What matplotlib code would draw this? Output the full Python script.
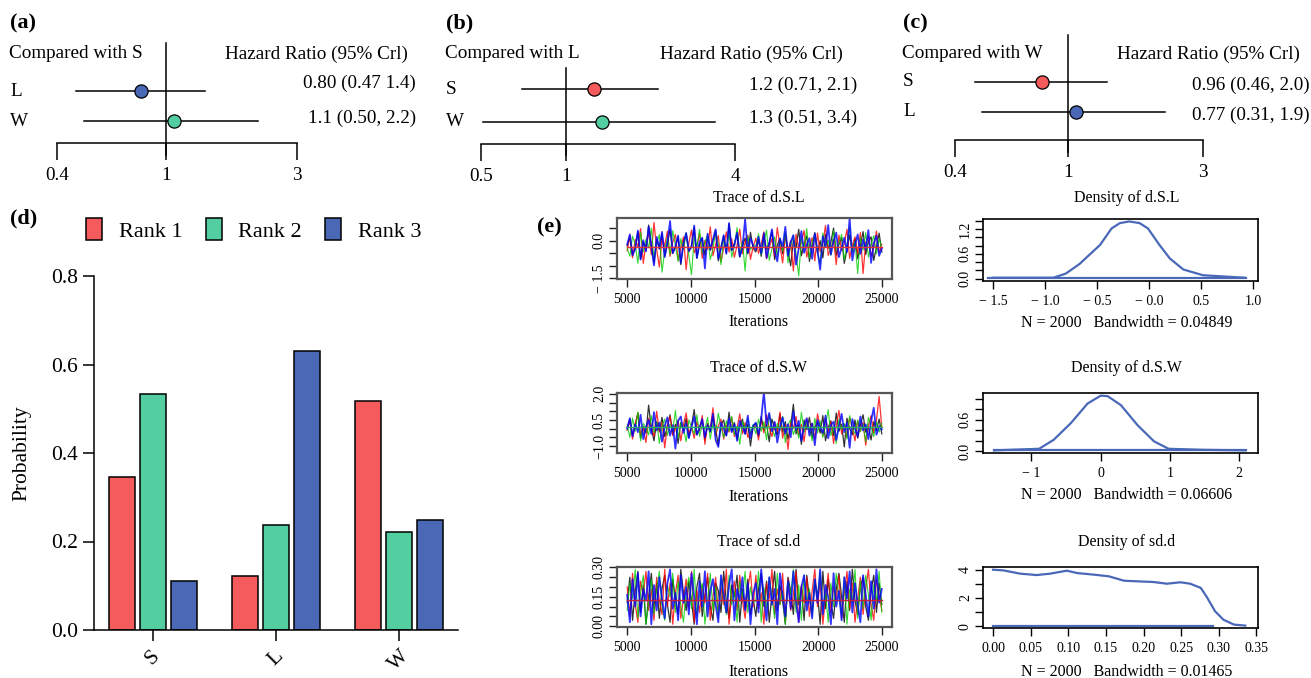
import numpy as np
import matplotlib.pyplot as plt
from matplotlib.ticker import NullLocator

plt.rcParams['font.family'] = ['Liberation Serif', 'DejaVu Serif']

RED = '#F55B5C'
GREEN = '#52CEA0'
BLUE = '#4A68B5'
DENS = '#4A68B8'

# ---- forest plots (a) (b) (c) ----
fa_rows = ['L', 'W']
fa_est = [0.81, 1.07]
fa_lo = [0.47, 0.50]
fa_hi = [1.38, 2.17]
fa_text = ['0.80 (0.47 1.4)', '1.1 (0.50, 2.2)']
fa_cols = [BLUE, GREEN]

fb_rows = ['S', 'W']
fb_est = [1.26, 1.35]
fb_lo = [0.70, 0.51]
fb_hi = [2.13, 3.39]
fb_text = ['1.2 (0.71, 2.1)', '1.3 (0.51, 3.4)']
fb_cols = [RED, GREEN]

fc_rows = ['S', 'L']
fc_est = [0.81, 1.07]
fc_lo = [0.47, 0.50]
fc_hi = [1.37, 2.20]
fc_text = ['0.96 (0.46, 2.0)', '0.77 (0.31, 1.9)']
fc_cols = [RED, BLUE]

# ---- rank probabilities (d) ----
treatments = ['S', 'L', 'W']
rank_labels = ['Rank 1', 'Rank 2', 'Rank 3']
rank1 = [0.346, 0.122, 0.517]
rank2 = [0.533, 0.237, 0.221]
rank3 = [0.111, 0.630, 0.248]
rank_cols = [RED, GREEN, BLUE]

# ---- MCMC traces (e), thinned values per chain ----
iter_start, iter_end = 5000, 25000
trace_cols = ['black', '#FF0000', '#00CD00', '#0000FF']

dSL_k = [-0.21, 0.12, -0.55, -0.30, 0.35, -0.72, -0.05, -0.40, 0.62, -0.18, -0.88, 0.05, -0.33, 0.28, -0.61, -0.12,
         0.44, -0.50, -0.25, 0.15, -0.95, -0.08, 0.30, -0.45, -0.20, 0.52, -0.70, -0.15, 0.08, -0.58, 0.22, -0.38,
         -0.02, 0.40, -0.80, -0.27, 0.18, -0.48, 0.66, -0.35, -0.10, 0.25, -0.65, -0.22, 0.10, -0.52, 0.33, -0.30,
         -0.45, 0.05, -0.62, 0.20, -0.35, -0.08, 0.38, -0.75, -0.18, 0.10, -0.52, 0.28, -0.40, -1.00, 0.02, -0.28,
         0.45, -0.60, -0.12, 0.18, -0.82, -0.22, 0.32, -0.48, 0.00, -0.68, 0.25, -0.30, -0.05, 0.50, -0.58, -0.15,
         0.12, -0.90, -0.35, 0.22, -0.42, 0.08, -0.72, -0.20, 0.36, -0.55, -0.02, 0.15, -0.78, -0.25, 0.30, -0.45]
dSL_r = [-0.40, 0.20, -0.68, 0.05, -0.25, 0.48, -0.90, -0.12, 0.30, -0.55, 0.72, -0.35, -1.05, 0.10, -0.20, 0.38,
         -0.62, -0.05, 0.25, -0.78, -0.30, 0.15, -1.15, -0.10, 0.42, -0.48, -0.22, 0.28, -0.70, 0.02, -0.35, 0.55,
         -0.60, -0.15, 0.20, -0.85, -0.28, 0.35, -0.45, 0.08, -0.66, -0.18, 0.46, -0.52, -0.08, 0.22, -0.74, -0.25,
         0.10, -0.50, -0.15, 0.35, -0.72, -0.28, 0.08, -0.60, 0.52, -0.20, -0.88, 0.18, -0.40, 0.00, -1.20, 0.26,
         -0.32, -0.05, 0.40, -0.65, -0.22, 0.12, -0.80, 0.30, -0.45, -0.10, 0.60, -0.58, -0.30, 0.05, -0.95, 0.22,
         -0.38, -0.12, 0.45, -0.70, -0.18, 0.15, -0.52, 0.32, -1.30, -0.08, 0.20, -0.62, -0.25, 0.38, -0.48, -0.15]
dSL_g = [-0.30, -0.62, 0.18, -0.15, -0.90, 0.32, -0.45, 0.05, -0.28, 0.50, -0.70, -0.10, 0.24, -1.25, -0.38, 0.12,
         -0.55, 0.40, -0.20, -0.82, 0.08, -0.35, 0.30, -0.60, -1.35, 0.15, -0.25, 0.45, -0.50, -0.05, 0.22, -0.75,
         -0.32, 0.36, -0.15, -0.95, 0.10, -0.42, 0.28, -0.65, -0.20, 0.52, -0.48, -0.02, -1.20, 0.18, -0.35, -0.22,
         -0.20, 0.28, -0.55, -0.10, 0.42, -0.78, -0.32, 0.15, -0.62, 0.05, -0.40, 0.35, -0.88, -0.18, 0.22, -0.50,
         -1.40, 0.10, -0.30, 0.48, -0.68, -0.05, 0.18, -0.45, -0.92, 0.30, -0.25, 0.02, -0.58, 0.40, -0.35, -0.12,
         0.25, -0.75, -0.20, 0.55, -0.48, -0.02, -1.30, 0.12, -0.38, 0.32, -0.65, -0.15, 0.20, -0.52, 0.08, -0.28]
dSL_b = [-0.15, 0.25, -0.58, -0.32, 0.40, -0.75, 0.02, -0.42, 0.55, -0.20, -0.98, 0.15, -0.30, 0.35, -0.65, -0.08,
         0.78, -0.50, -0.22, 0.20, -0.88, -0.12, 0.30, -0.40, -0.25, 0.60, -0.68, -0.05, 0.12, -1.10, 0.28, -0.35,
         0.05, 0.45, -0.72, -0.30, 0.22, -0.52, 0.70, -0.38, -0.18, 0.32, -0.62, -0.28, 0.85, -0.48, 0.10, -0.20,
         -0.35, 0.15, -0.50, 0.30, -0.68, -0.12, 0.45, -0.40, -0.82, 0.08, -0.25, 0.55, -0.60, -0.05, 0.22, -0.95,
         -0.30, 0.38, -0.48, -0.15, 0.10, -0.72, 0.28, -0.38, -1.15, 0.18, -0.22, 0.62, -0.55, -0.02, 0.32, -0.65,
         -0.28, 0.12, -0.45, 0.90, -0.78, -0.18, 0.25, -0.52, 0.05, -0.35, 0.42, -0.88, -0.10, 0.20, -0.60, -0.30]

dSW_k = [0.05, 0.55, -0.40, 0.20, 0.90, -0.55, 0.12, -0.25, 1.35, 0.00, -0.70, 0.40, -0.15, 0.65, -0.45, 0.10,
         0.80, -0.30, 0.25, -0.85, 0.35, -0.10, 0.60, -0.50, 0.15, 1.10, -0.35, 0.05, 0.45, -0.65, 0.30, -0.20,
         0.70, -0.05, -0.95, 0.20, 0.50, -0.40, 0.95, -0.15, 0.35, -0.60, 0.10, 0.55, -0.30, 0.25, -1.00, 0.15,
         0.30, -0.45, 0.70, -0.10, 0.25, -0.75, 0.55, 0.00, -0.35, 0.85, -0.20, 0.40, -0.60, 0.15, 1.40, -0.30,
         0.20, -0.90, 0.50, -0.05, 0.65, -0.50, 0.10, 0.35, -0.25, 0.75, -0.70, 0.05, 0.45, -0.40, 0.90, -0.15,
         0.25, -1.05, 0.60, 0.00, -0.35, 0.50, -0.55, 0.20, 0.80, -0.20, 0.10, -0.65, 0.40, -0.10, 0.55, -0.30]
dSW_r = [-0.10, 0.45, -0.60, 0.30, 0.85, -0.35, 0.05, -0.80, 0.60, 0.15, -0.45, 1.00, -0.20, 0.35, -1.10, 0.20,
         0.70, -0.40, 0.00, 0.50, -0.70, 0.25, 0.90, -0.25, 0.10, -0.55, 0.40, -0.15, 0.75, -0.90, 0.30, -0.05,
         1.20, -0.35, 0.15, 0.55, -0.60, 0.20, -0.20, 0.65, -0.45, 0.05, 0.85, -0.30, 0.35, -0.50, -0.25, 0.10,
         0.15, -0.65, 0.50, -0.25, 0.80, 0.05, -0.45, 0.35, -0.15, 0.95, -0.55, 0.20, -1.20, 0.45, 0.00, 0.70,
         -0.35, 0.25, -0.75, 0.55, -0.10, 0.30, -0.60, 0.85, 0.10, -0.40, 0.60, -0.20, 0.40, -0.85, 0.15, 1.05,
         -0.30, 0.25, -0.50, 0.65, 0.05, -0.70, 0.45, -0.15, 0.35, -0.95, 0.20, 0.75, -0.25, 0.50, 1.85, 0.05]
dSW_g = [0.20, -0.50, 0.60, -0.15, 0.95, -0.70, 0.30, 0.05, -0.35, 0.75, -0.20, 0.40, -0.85, 0.15, 0.55, -0.40,
         0.25, -0.10, 1.05, -0.55, 0.35, 0.00, -0.75, 0.50, 0.10, -0.30, 0.80, -0.45, 0.20, -0.05, 0.65, -0.60,
         0.30, -0.25, 0.90, 0.05, -0.50, 0.45, -0.15, 0.70, -0.35, 0.15, -0.90, 0.40, 0.00, 0.60, -0.25, 0.25,
         -0.30, 0.55, -0.15, 0.40, -0.65, 0.85, 0.05, -0.45, 0.30, -0.10, 0.70, -0.80, 0.25, 0.50, -0.35, 0.15,
         -0.55, 0.95, -0.20, 0.35, 0.05, -0.70, 0.60, -0.25, 0.45, -0.50, 0.20, 1.10, -0.40, 0.10, -0.85, 0.55,
         -0.05, 0.30, -0.60, 0.75, 0.00, -0.30, 0.50, -0.15, 0.25, -0.75, 0.65, 0.10, -0.45, 0.40, -0.20, 0.30]
dSW_b = [0.00, 0.60, -0.45, 0.25, -0.20, 0.80, -0.60, 0.10, 0.50, -0.30, 0.95, -0.10, 0.35, -0.75, 0.15, 0.65,
         -0.40, 0.20, -1.15, 0.45, 0.70, -0.25, 0.30, -0.55, 0.10, 0.70, -0.35, 0.05, 0.55, -0.50, 0.20, -0.15,
         0.85, -0.65, -1.05, 0.35, 0.00, -0.40, 0.60, -0.20, 0.25, -0.70, 0.45, 0.10, -0.30, 0.75, -0.55, 0.15,
         0.35, -0.35, 0.55, 2.10, 0.20, 0.90, -0.15, 0.40, -0.80, 0.10, 0.65, -0.30, 0.25, -0.50, 1.00, -0.05,
         0.45, -0.70, 0.15, 0.60, -0.40, 0.30, -0.95, 0.50, 0.05, -0.25, 0.75, -0.55, 0.20, 0.40, -0.65, 0.10,
         0.85, -0.20, 0.35, -1.10, 0.55, 0.00, -0.45, 0.70, -0.10, 0.25, -0.60, 0.45, 1.20, -0.35, 0.15, -0.05]

sdd_k = [0.12, 0.25, 0.03, 0.18, 0.28, 0.07, 0.21, 0.01, 0.15, 0.27, 0.09, 0.22, 0.04, 0.19, 0.26, 0.11,
         0.02, 0.24, 0.14, 0.06, 0.29, 0.17, 0.08, 0.23, 0.13, 0.01, 0.20, 0.27, 0.05, 0.16, 0.25, 0.10,
         0.03, 0.22, 0.18, 0.07, 0.28, 0.12, 0.04, 0.21, 0.15, 0.26, 0.02, 0.19, 0.09, 0.24, 0.06, 0.14,
         0.05, 0.19, 0.27, 0.10, 0.23, 0.02, 0.16, 0.28, 0.08, 0.21, 0.13, 0.01, 0.25, 0.18, 0.06, 0.29,
         0.11, 0.20, 0.03, 0.26, 0.14, 0.07, 0.22, 0.17, 0.01, 0.28, 0.09, 0.24, 0.12, 0.04, 0.19, 0.27,
         0.15, 0.02, 0.23, 0.08, 0.29, 0.13, 0.06, 0.20, 0.25, 0.10, 0.03, 0.18, 0.26, 0.07, 0.22, 0.11]
sdd_r = [0.20, 0.05, 0.27, 0.11, 0.02, 0.23, 0.16, 0.28, 0.08, 0.19, 0.03, 0.25, 0.13, 0.06, 0.29, 0.10,
         0.22, 0.01, 0.17, 0.26, 0.04, 0.14, 0.24, 0.09, 0.28, 0.02, 0.18, 0.07, 0.21, 0.12, 0.27, 0.03,
         0.15, 0.25, 0.06, 0.20, 0.11, 0.29, 0.01, 0.16, 0.23, 0.08, 0.26, 0.13, 0.04, 0.19, 0.28, 0.10,
         0.26, 0.09, 0.17, 0.01, 0.22, 0.14, 0.29, 0.06, 0.19, 0.11, 0.27, 0.03, 0.24, 0.08, 0.16, 0.28,
         0.02, 0.21, 0.12, 0.25, 0.05, 0.18, 0.29, 0.10, 0.23, 0.01, 0.15, 0.27, 0.07, 0.20, 0.13, 0.26,
         0.04, 0.17, 0.28, 0.09, 0.22, 0.02, 0.14, 0.25, 0.06, 0.19, 0.29, 0.11, 0.03, 0.24, 0.16, 0.08]
sdd_g = [0.08, 0.22, 0.14, 0.29, 0.04, 0.17, 0.26, 0.01, 0.12, 0.24, 0.06, 0.19, 0.28, 0.10, 0.03, 0.21,
         0.15, 0.27, 0.07, 0.23, 0.11, 0.02, 0.18, 0.25, 0.09, 0.29, 0.05, 0.16, 0.22, 0.01, 0.13, 0.27,
         0.08, 0.20, 0.04, 0.24, 0.14, 0.06, 0.26, 0.11, 0.18, 0.02, 0.23, 0.15, 0.28, 0.07, 0.20, 0.12,
         0.13, 0.28, 0.02, 0.20, 0.09, 0.25, 0.15, 0.04, 0.27, 0.11, 0.18, 0.01, 0.23, 0.16, 0.29, 0.07,
         0.21, 0.03, 0.26, 0.12, 0.19, 0.05, 0.24, 0.14, 0.28, 0.08, 0.17, 0.02, 0.22, 0.10, 0.27, 0.15,
         0.06, 0.25, 0.01, 0.19, 0.12, 0.29, 0.04, 0.23, 0.09, 0.26, 0.16, 0.03, 0.21, 0.13, 0.28, 0.07]
sdd_b = [0.16, 0.02, 0.24, 0.10, 0.27, 0.05, 0.19, 0.13, 0.28, 0.01, 0.21, 0.08, 0.25, 0.14, 0.04, 0.22,
         0.29, 0.09, 0.17, 0.03, 0.26, 0.12, 0.20, 0.06, 0.27, 0.15, 0.01, 0.23, 0.10, 0.28, 0.05, 0.18,
         0.24, 0.11, 0.02, 0.26, 0.16, 0.07, 0.21, 0.29, 0.03, 0.19, 0.13, 0.25, 0.08, 0.22, 0.01, 0.17,
         0.22, 0.07, 0.29, 0.14, 0.03, 0.25, 0.11, 0.19, 0.01, 0.27, 0.16, 0.05, 0.23, 0.09, 0.28, 0.13,
         0.02, 0.20, 0.26, 0.08, 0.17, 0.04, 0.24, 0.12, 0.29, 0.06, 0.21, 0.15, 0.01, 0.27, 0.10, 0.18,
         0.03, 0.25, 0.14, 0.28, 0.07, 0.22, 0.11, 0.02, 0.26, 0.16, 0.05, 0.23, 0.09, 0.29, 0.12, 0.19]

trace_means = [-0.24, 0.10, 0.135]

# ---- posterior densities (e) ----
dens1_x = [-1.50, -0.92, -0.80, -0.67, -0.47, -0.36, -0.28, -0.19, -0.09, -0.01, 0.10, 0.20, 0.33, 0.52, 0.92]
dens1_y = [0.02, 0.02, 0.12, 0.35, 0.82, 1.22, 1.35, 1.39, 1.35, 1.22, 0.82, 0.49, 0.22, 0.08, 0.02]
dens2_x = [-1.54, -0.89, -0.68, -0.43, -0.19, 0.00, 0.10, 0.29, 0.53, 0.77, 0.98, 1.49, 2.09]
dens2_y = [0.02, 0.05, 0.22, 0.54, 0.91, 1.06, 1.05, 0.88, 0.50, 0.19, 0.05, 0.03, 0.02]
dens3_x = [0.000, 0.014, 0.036, 0.058, 0.076, 0.098, 0.112, 0.134, 0.154, 0.174, 0.191, 0.213, 0.231, 0.249,
           0.262, 0.276, 0.284, 0.295, 0.306, 0.320, 0.335]
dens3_y = [4.00, 3.95, 3.72, 3.62, 3.72, 3.93, 3.76, 3.65, 3.53, 3.22, 3.18, 3.13, 3.01, 3.11,
           3.01, 2.71, 2.07, 1.06, 0.47, 0.12, 0.05]
dens_base = [(-1.55, 0.93, 0.02), (-1.54, 2.09, 0.02), (0.0, 0.292, 0.05)]

W, H = 1311, 678
fig = plt.figure(figsize=(W / 100, H / 100), dpi=100)


def px_axes(x0, y0, x1, y1):
    return fig.add_axes([x0 / W, 1 - y1 / H, (x1 - x0) / W, (y1 - y0) / H])


def px_text(x, y, s, **kw):
    kw.setdefault('va', 'center')
    fig.text(x / W, 1 - y / H, s, **kw)


def forest_panel(x0, x1, y_axis, row0, step, xticks, rows, est, lo, hi, cols, texts,
                 line_top, line_bot, left, head_x, val_x, val_y, tag, ref):
    ax = px_axes(x0, line_top, x1, y_axis)
    ax.patch.set_alpha(0)
    ax.set_xscale('log')
    ax.set_xlim(xticks[0], xticks[-1])
    ax.set_ylim((y_axis - row0) / step, (line_top - row0) / step)
    for i in range(len(rows)):
        ax.plot([lo[i], hi[i]], [i, i], color='black', lw=1.1, clip_on=False)
        ax.plot(est[i], i, 'o', ms=9.5, mfc=cols[i], mec='black', mew=0.9, zorder=3, clip_on=False)
    ax.plot([1, 1], [(line_bot - row0) / step, (line_top - row0) / step], color='black', lw=1.1, clip_on=False)
    for s in ['top', 'right', 'left']:
        ax.spines[s].set_visible(False)
    ax.spines['bottom'].set_linewidth(1.1)
    ax.set_yticks([])
    ax.set_xticks(xticks)
    ax.set_xticklabels([str(t) for t in xticks], fontsize=13.8)
    ax.xaxis.set_minor_locator(NullLocator())
    ax.tick_params(axis='x', length=12, width=1.1, pad=5)
    px_text(left + 1, 23, tag, fontsize=16, fontweight='bold')
    px_text(left, 54, 'Compared with ' + ref, fontsize=13.8)
    px_text(head_x, 54, 'Hazard Ratio (95% Crl)', fontsize=13.8)
    for i in range(len(rows)):
        px_text(left + 1, row0 + i * step, rows[i], fontsize=13.8)
        px_text(val_x, val_y[i], texts[i], fontsize=13.8, ha='right')
    return ax


forest_panel(57, 297, 143, 91, 30, [0.4, 1, 3], fa_rows, fa_est, fa_lo, fa_hi, fa_cols, fa_text,
             43, 155, 9, 225, 416, [83, 118], '(a)', 'S')
forest_panel(481, 735, 144, 89, 33, [0.5, 1, 4], fb_rows, fb_est, fb_lo, fb_hi, fb_cols, fb_text,
             68, 155, 445, 660, 857, [85, 118], '(b)', 'L')
forest_panel(955, 1203, 140, 82, 30, [0.4, 1, 3], fc_rows, fc_est, fc_lo, fc_hi, fc_cols, fc_text,
             35, 152, 902, 1117, 1310, [85, 115], '(c)', 'W')

# ---- (d) bar chart ----
ax = px_axes(94, 276, 458, 630)
x = np.arange(len(treatments))
for k, vals in enumerate([rank1, rank2, rank3]):
    ax.bar(x + (k - 1) * 0.252, vals, width=0.21, color=rank_cols[k], edgecolor='black', lw=1.1,
           label=rank_labels[k])
ax.set_xlim(-0.48, 2.48)
ax.set_ylim(0, 0.8)
for s in ['top', 'right']:
    ax.spines[s].set_visible(False)
for s in ['left', 'bottom']:
    ax.spines[s].set_linewidth(1.1)
ax.set_yticks([0, 0.2, 0.4, 0.6, 0.8])
ax.set_yticklabels(['0.0', '0.2', '0.4', '0.6', '0.8'], fontsize=15.5)
ax.set_xticks(x)
ax.set_xticklabels(treatments, fontsize=15.5, rotation=45)
ax.tick_params(length=8, width=1.1)
ax.tick_params(axis='x', pad=4)
px_text(22, 453, 'Probability', fontsize=15.5, rotation=90, ha='center')
px_text(10, 218, '(d)', fontsize=16, fontweight='bold')
ax.legend(loc='center left', bbox_to_anchor=(86 / W, 1 - 230 / H), bbox_transform=fig.transFigure,
          ncol=3, frameon=False, fontsize=16, handlelength=0.72, handleheight=1.15,
          handletextpad=0.75, columnspacing=1.05, borderpad=0, borderaxespad=0)

# ---- (e) traces ----
px_text(537, 227, '(e)', fontsize=16, fontweight='bold')


def trace_panel(y0, y1, chains, mean, mean_col, ylim, yticks, ylabs, title, title_y, xl_y):
    ax = px_axes(617, y0, 892, y1)
    for vals, c, lw in zip(chains, trace_cols, [0.9, 0.9, 0.8, 1.3]):
        it = np.linspace(iter_start, iter_end, len(vals))
        ax.plot(it, vals, color=c, lw=lw, alpha=0.8)
    ax.plot([iter_start, iter_end], [mean, mean], color=mean_col, lw=1.0)
    ax.set_xlim(4200, 25800)
    ax.set_ylim(*ylim)
    ax.set_xticks([5000, 10000, 15000, 20000, 25000])
    ax.set_xticklabels(['5000', '10000', '15000', '20000', '25000'], fontsize=10)
    ax.set_yticks(yticks)
    ax.set_yticklabels(ylabs, fontsize=10, rotation=90, va='center')
    ax.tick_params(length=6, width=1.0, color='#222222')
    ax.tick_params(axis='x', pad=4)
    ax.tick_params(axis='y', pad=2)
    for s in ax.spines.values():
        s.set_color('#555555')
        s.set_linewidth(1.6)
    cx = (617 + 892) / 2 + 4
    px_text(cx, title_y, title, fontsize=11.5, ha='center')
    px_text(cx, xl_y, 'Iterations', fontsize=11.5, ha='center')
    return ax


trace_panel(218, 279, [dSL_k, dSL_r, dSL_g, dSL_b], trace_means[0], '#E0303A', (-1.52, 0.9),
            [-1.5, -1.0, -0.5, 0.0, 0.5], ['\u2212 1.5', '', '', '0.0', ''],
            'Trace of d.S.L', 198, 322)
trace_panel(393, 453, [dSW_k, dSW_r, dSW_g, dSW_b], trace_means[1], '#2EA86A', (-1.4, 2.05),
            [-1.0, -0.5, 0.0, 0.5, 1.0, 1.5, 2.0], ['\u22121.0', '', '', '0.5', '', '', '2.0'],
            'Trace of d.S.W', 368, 497)
trace_panel(567, 627, [sdd_k, sdd_r, sdd_g, sdd_b], trace_means[2], '#C0203A', (-0.004, 0.302),
            [0.0, 0.05, 0.10, 0.15, 0.20, 0.25, 0.30], ['0.00', '', '', '0.15', '', '', '0.30'],
            'Trace of sd.d', 542, 672)


def dens_panel(y0, y1, dx, dy, base, xlim, ylim, xticks, xlabs, yticks, ylabs, title, title_y, nl_y, bw):
    ax = px_axes(983, y0, 1258, y1)
    ax.plot(dx, dy, color=DENS, lw=1.6)
    ax.plot([base[0], base[1]], [base[2], base[2]], color=DENS, lw=1.6)
    ax.set_xlim(*xlim)
    ax.set_ylim(*ylim)
    ax.set_xticks(xticks)
    ax.set_xticklabels(xlabs, fontsize=10)
    ax.set_yticks(yticks)
    ax.set_yticklabels(ylabs, fontsize=10, rotation=90, va='center')
    ax.tick_params(length=6, width=1.0)
    ax.tick_params(axis='x', pad=4)
    ax.tick_params(axis='y', pad=2)
    for s in ax.spines.values():
        s.set_linewidth(1.2)
    cx = (983 + 1258) / 2 + 6
    px_text(cx, title_y, title, fontsize=11.5, ha='center')
    px_text(cx, nl_y, 'N = 2000   Bandwidth = ' + bw, fontsize=11.5, ha='center')
    return ax


dens_panel(219, 281, dens1_x, dens1_y, dens_base[0], (-1.596, 1.048), (-0.06, 1.45),
           [-1.5, -1.0, -0.5, 0.0, 0.5, 1.0], ['\u2212 1.5', '\u2212 1.0', '\u2212 0.5', '\u2212 0.0', '0.5', '1.0'],
           [0, 0.2, 0.4, 0.6, 0.8, 1.0, 1.2, 1.4], ['0.0', '', '', '0.6', '', '', '1.2', ''],
           'Density of d.S.L', 198, 323, '0.04849')
dens_panel(393, 453, dens2_x, dens2_y, dens_base[1], (-1.70, 2.27), (-0.03, 1.11),
           [-1, 0, 1, 2], ['\u2212 1', '0', '1', '2'],
           [0, 0.2, 0.4, 0.6, 0.8, 1.0], ['0.0', '', '', '0.6', '', ''],
           'Density of d.S.W', 368, 495, '0.06606')
dens_panel(567, 628, dens3_x, dens3_y, dens_base[2], (-0.0133, 0.352), (-0.12, 4.19),
           [0, 0.05, 0.10, 0.15, 0.20, 0.25, 0.30, 0.35],
           ['0.00', '0.05', '0.10', '0.15', '0.20', '0.25', '0.30', '0.35'],
           [0, 1, 2, 3, 4], ['0', '', '2', '', '4'],
           'Density of sd.d', 542, 672, '0.01465')

fig.savefig('out.png', dpi=100)
